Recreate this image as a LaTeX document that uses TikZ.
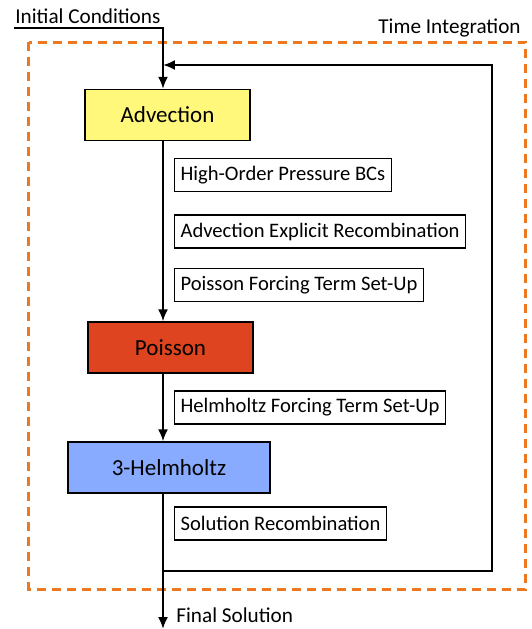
\documentclass[tikz,border=0pt]{standalone}
\usepackage{fontspec}
\setmainfont{Carlito}
\usetikzlibrary{arrows.meta}
\begin{document}
\begin{tikzpicture}[x=0.5pt, y=-0.5pt,
        % Solver stage boxes
        stage/.style={draw, line width=0.7pt, minimum height=25.5pt, font=\fontsize{11.5}{13}\selectfont, align=center},
        % Intermediate step labels
        step label/.style={draw, line width=0.6pt, anchor=west, minimum height=16.5pt, inner xsep=3pt, font=\fontsize{10.3}{12}\selectfont},
        % Plain text
        plain/.style={font=\fontsize{10.6}{12}\selectfont, inner sep=0pt},
        % Arrows
        arrow/.style={-{Latex[length=6pt, width=5pt]}, line width=1pt}
    ]
    \useasboundingbox (0,0) rectangle (532,629);

    % Time integration loop region
    \draw[draw={rgb,255:red,238;green,119;blue,34}, line width=1.5pt, dash pattern=on 4.5pt off 3pt] (29,42) rectangle (526,589);
    \node[plain, anchor=east] (timeint) at (521,28) {Time Integration};

    % Main solver stages
    \node[stage, fill={rgb,255:red,255;green,248;blue,122}, minimum width=82.5pt] (adv) at (167.5,115) {Advection};
    \node[stage, fill={rgb,255:red,222;green,68;blue,32}, minimum width=82.5pt] (poi) at (170.5,347.5) {Poisson};
    \node[stage, fill={rgb,255:red,136;green,170;blue,255}, minimum width=101pt] (helm) at (169,467.5) {3-Helmholtz};

    % Steps between stages
    \node[step label] (hopbc) at (174,175) {High-Order Pressure BCs};
    \node[step label] (aer) at (174,231.5) {Advection Explicit Recombination};
    \node[step label] (pft) at (174,285) {Poisson Forcing Term Set-Up};
    \node[step label] (hft) at (174,407.5) {Helmholtz Forcing Term Set-Up};
    \node[step label] (sr) at (174,523.5) {Solution Recombination};

    % Entry and exit
    \node[plain, anchor=west] (init) at (15,16) {Initial Conditions};
    \node[plain, anchor=west] (final) at (176,615) {Final Solution};
    \coordinate (mainx) at (163,0);
    \coordinate (initstart) at (14,28);
    \coordinate (loopbot) at (492,571);
    \coordinate (looptop) at (492,65);
    \coordinate (finalend) at (163,629);

    % Flow through the stages
    \draw[arrow] (initstart) -| (adv.north -| mainx);
    \draw[arrow] (adv.south -| mainx) -- (poi.north -| mainx);
    \draw[arrow] (poi.south -| mainx) -- (helm.north -| mainx);
    \draw[arrow] (helm.south -| mainx) -- (finalend);

    % Return to next time step
    \draw[arrow] (loopbot -| mainx) -- (loopbot) -- (looptop) -- (looptop -| mainx);

\end{tikzpicture}
\end{document}
